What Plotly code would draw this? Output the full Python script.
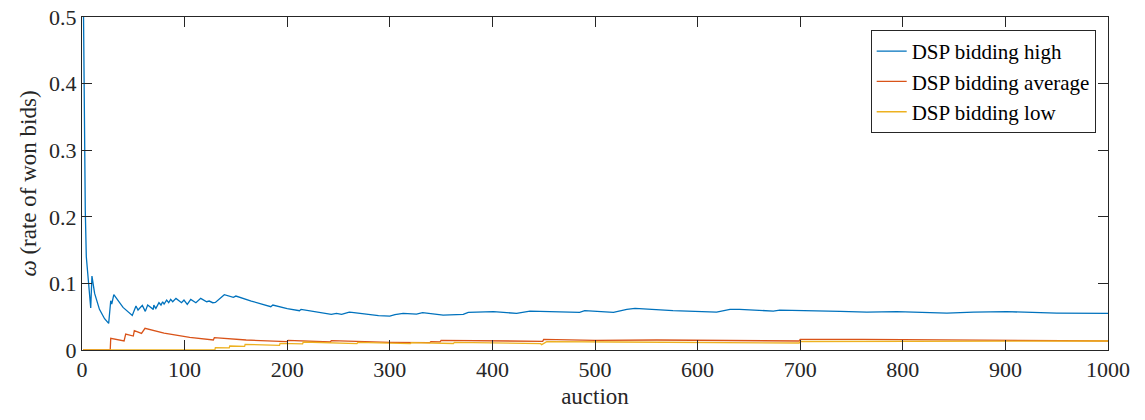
import plotly.graph_objects as go

# ---- data ----
high_x = [1.5, 2.0, 2.6, 3.2, 4.2, 5.8, 7, 8.5, 9.7, 12.3, 17, 22, 26, 28, 29, 31, 40, 49,
          52.6, 54.6, 58.8, 61.7, 64, 69.5, 70, 72, 75, 77, 78.6, 80, 82.5, 84.5, 86.4, 88.4,
          91.6, 97, 99.4, 102.6, 106, 111, 115.7, 121.5, 124, 127.4, 130, 134.5, 138.7,
          147.5, 150, 165, 184, 186, 200, 212, 213.5, 243, 248, 253, 260.5, 263, 289, 300,
          305, 313, 326, 332, 349, 352, 371.6, 376.5, 401, 423.6, 436.6, 485, 490, 518, 531,
          539, 576, 599, 618.5, 631.6, 641, 673.8, 680, 739, 765, 794, 843, 869, 901, 950, 1000]
high_y = [0.5, 0.40, 0.30, 0.21, 0.14, 0.11, 0.08, 0.063, 0.111, 0.085, 0.061, 0.047, 0.040,
          0.074, 0.069, 0.083, 0.064, 0.052, 0.066, 0.060, 0.067, 0.058, 0.0675, 0.061, 0.0675,
          0.0625, 0.071, 0.0675, 0.0725, 0.069, 0.075, 0.071, 0.076, 0.0725, 0.0775, 0.071,
          0.075, 0.0685, 0.076, 0.071, 0.0775, 0.0725, 0.0735, 0.071, 0.0715, 0.0775, 0.083,
          0.079, 0.081, 0.0735, 0.065, 0.0675, 0.062, 0.059, 0.061, 0.0535, 0.055, 0.0535,
          0.057, 0.0565, 0.0515, 0.051, 0.053, 0.055, 0.054, 0.056, 0.053, 0.0525, 0.0535,
          0.0565, 0.0575, 0.055, 0.0585, 0.0565, 0.059, 0.0565, 0.061, 0.0625, 0.059, 0.0585,
          0.057, 0.061, 0.061, 0.0585, 0.060, 0.058, 0.057, 0.0575, 0.0555, 0.057, 0.0575,
          0.0555, 0.055]

avg_x = [1, 27.5, 28, 41, 42.6, 50, 51, 58, 61.4, 80, 105, 128, 129, 160, 199.5, 201, 242,
         243, 300, 339, 340, 349, 350, 449, 450, 480, 500, 560, 600, 640, 699, 700, 739, 760,
         800, 850, 900, 950, 1000]
avg_y = [0, 0, 0.0175, 0.0135, 0.024, 0.021, 0.029, 0.025, 0.0325, 0.0255, 0.019, 0.015,
         0.0185, 0.015, 0.0125, 0.0145, 0.012, 0.014, 0.0115, 0.011, 0.0125, 0.0122, 0.0145,
         0.013, 0.016, 0.015, 0.0145, 0.015, 0.0145, 0.0145, 0.0135, 0.016, 0.0165, 0.016,
         0.0155, 0.015, 0.0145, 0.014, 0.0135]

low_x = [1, 129.5, 130, 143.5, 144, 158.5, 159, 192.5, 193, 215, 215.7, 268, 269, 300, 320,
         321, 362, 363, 447, 448, 453, 520, 600, 699, 700, 760, 850, 1000]
low_y = [0, 0, 0.0035, 0.0032, 0.006, 0.0055, 0.0085, 0.007, 0.010, 0.0093, 0.012, 0.0097,
         0.0115, 0.0105, 0.0095, 0.011, 0.0098, 0.0115, 0.0095, 0.008, 0.0125, 0.012, 0.0115,
         0.0105, 0.0128, 0.013, 0.013, 0.0135]

series_names = ["DSP bidding high", "DSP bidding average", "DSP bidding low"]
series_colors = ["#0072BD", "#D95319", "#EDB120"]

x_ticks = [0, 100, 200, 300, 400, 500, 600, 700, 800, 900, 1000]
y_ticks = [0, 0.1, 0.2, 0.3, 0.4, 0.5]
y_tick_labels = ["0", "0.1", "0.2", "0.3", "0.4", "0.5"]

FONT = "Liberation Serif"
AXC = "#262626"

fig = go.Figure()
for xs, ys, name, col in zip([high_x, avg_x, low_x], [high_y, avg_y, low_y],
                             series_names, series_colors):
    fig.add_trace(go.Scatter(x=xs, y=ys, mode="lines", name=name,
                             line=dict(color=col, width=1.3)))

axis_common = dict(showgrid=False, zeroline=False, showline=True, linecolor=AXC,
                   linewidth=1, mirror="ticks", ticks="inside", ticklen=10,
                   tickcolor=AXC, tickwidth=1, automargin=False,
                   ticklabeloverflow="allow",
                   tickfont=dict(family=FONT, size=22, color="#262626"))

fig.update_xaxes(range=[0, 1000], tickvals=x_ticks,
                 title=dict(text="auction", font=dict(family=FONT, size=23, color="#262626"),
                            standoff=6),
                 **axis_common)
fig.update_yaxes(range=[0, 0.5], tickvals=y_ticks, ticktext=y_tick_labels,
                 title=dict(text="<i>ω</i> (rate of won bids)",
                            font=dict(family=FONT, size=23, color="#262626"), standoff=6),
                 **axis_common)

fig.update_layout(
    width=1145, height=420,
    font=dict(family=FONT, color="#262626"),
    margin=dict(l=82, r=37, t=17, b=70),
    plot_bgcolor="white", paper_bgcolor="white",
    legend=dict(x=0.988, y=0.961, xanchor="right", yanchor="top",
                bgcolor="white", bordercolor=AXC, borderwidth=1,
                font=dict(family=FONT, size=21, color="black"),
                tracegroupgap=0, itemwidth=30),
    showlegend=True,
)

# remove the browser's default page margin so the figure sits at the window's corner
fig.write_html("out.html",
               config={"displayModeBar": False},
               post_script="document.body.style.margin='0';document.body.style.overflow='hidden';")
